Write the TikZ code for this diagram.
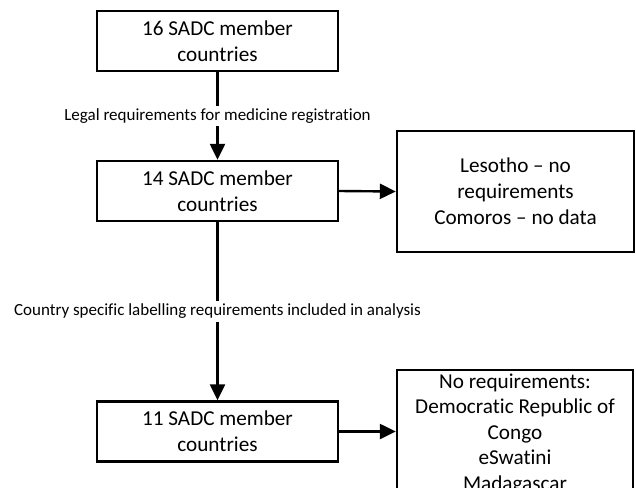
\documentclass[tikz,border=0pt]{standalone}
\usepackage{fontspec}
\setmainfont[Ligatures={NoCommon,TeX}]{Carlito}
\usetikzlibrary{arrows.meta}
\begin{document}
\begin{tikzpicture}[x=1pt,y=-1pt,
  box/.style={draw=black,line width=2.4pt,minimum width=241pt,minimum height=60pt,align=center,inner sep=0pt,font=\fontsize{21.2}{26}\selectfont},
  txt/.style={align=center,inner sep=0pt,font=\fontsize{21.2}{25.5}\selectfont},
  lbl/.style={fill=white,inner sep=3pt,font=\fontsize{17}{20}\selectfont},
  arr/.style={line width=2.4pt,-{Triangle[length=16pt,width=15pt]}}]
\useasboundingbox (0,0) rectangle (636,487);
\clip (0,0) rectangle (636,487);
\fill[white] (0,0) rectangle (636,487);
\node[box] (b1) at (217.5,41) {16 SADC member\\countries};
\node[box] (b2) at (217.5,191) {14 SADC member\\countries};
\node[box,minimum width=237pt,minimum height=121pt] (b3) at (515.5,191.5) {Lesotho -- no\\requirements\\Comoros -- no data};
\node[box] (b4) at (217.5,431.5) {11 SADC member\\countries};
\node[box,minimum width=236pt,minimum height=160pt] (b5) at (515,450) {};
\node[txt,anchor=north] (t5) at (515,373.5) {No requirements:\\Democratic Republic of\\Congo\\eSwatini\\Madagascar};
\draw[arr] (b1) -- node[lbl] {Legal requirements for medicine registration} (b2);
\draw[arr] (b2) -- node[lbl] {Country specific labelling requirements included in analysis} (b4);
\draw[arr] (b2.east) -- (b3.west);
\draw[arr] (b4.east) -- (b4.east -| b5.west);
\end{tikzpicture}
\end{document}
